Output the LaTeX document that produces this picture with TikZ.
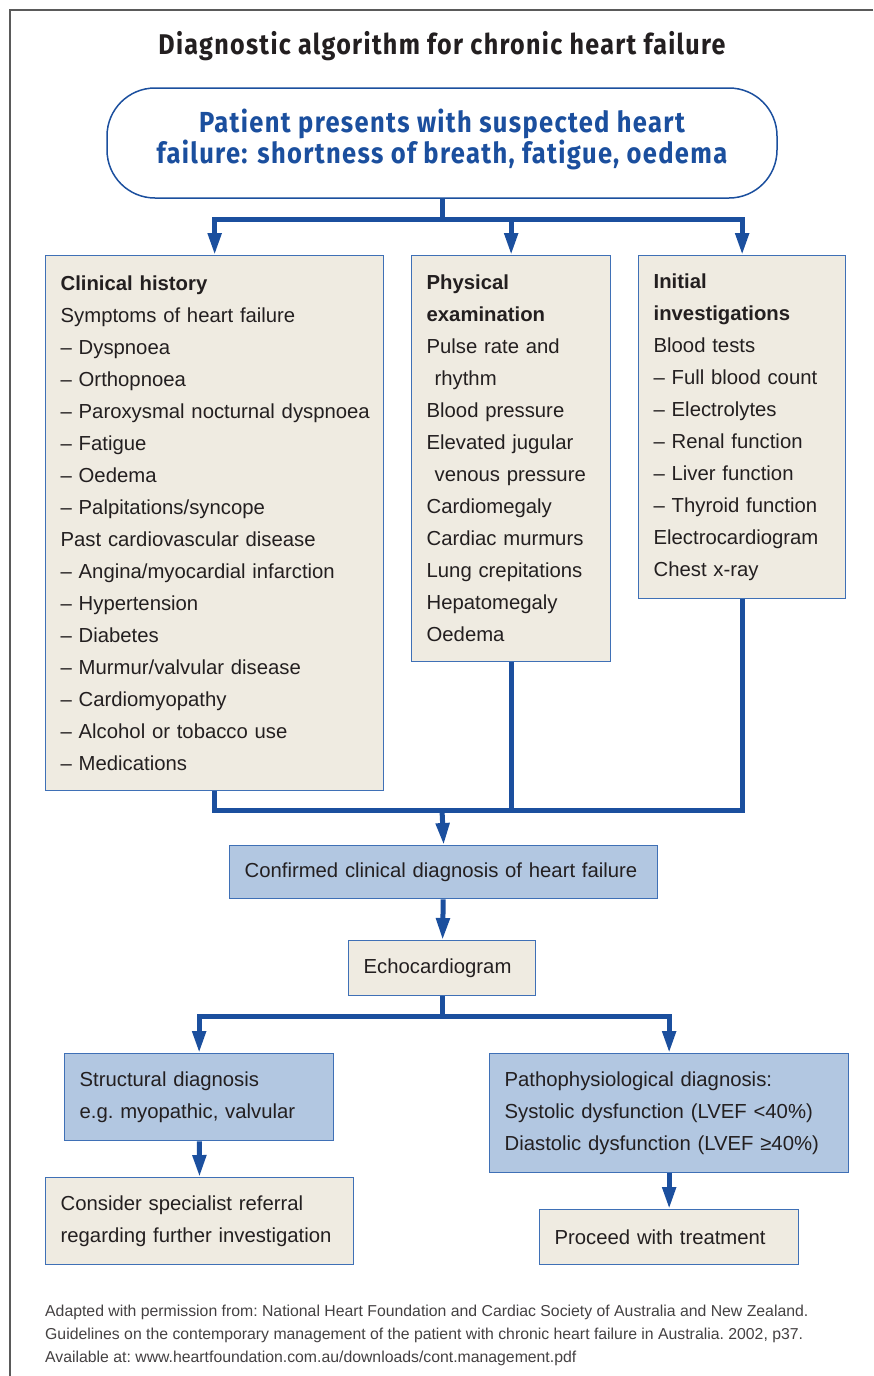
\documentclass[tikz,border=0pt]{standalone}
\usepackage{fontspec}
\setmainfont{Liberation Sans}
\newfontfamily\condfont[FakeStretch=0.88, LetterSpace=4.6]{Fira Sans}
\usepackage{xcolor}
\usepackage{tikz}
\usetikzlibrary{arrows.meta}

\definecolor{flowblue}{HTML}{1B4F9E}
\definecolor{edgeblue}{HTML}{3F70B6}
\definecolor{beige}{HTML}{EFEBE1}
\definecolor{paleblue}{HTML}{B2C7E1}
\definecolor{ink}{HTML}{231F20}
\definecolor{framegray}{HTML}{5A5A5A}

\begin{document}
\begin{tikzpicture}[x=1pt, y=-1pt,
    every node/.style={text=ink, font=\fontsize{20.3}{32}\selectfont\frenchspacing},
    card/.style={draw=edgeblue, line width=1.3pt, fill=beige, anchor=north west, align=left, inner xsep=15pt, inner ysep=0pt},
    bluecard/.style={card, fill=paleblue},
    link/.style={draw=flowblue, line width=5pt},
    flow/.style={link, -{Triangle[width=13pt,length=22pt]}}]
    \useasboundingbox (0,0) rectangle (873,1376);
    \draw[framegray, line width=2pt] (873,10) -- (10,10) -- (10,1376);

    % Title and start
    \node (title) at (442,46) {\condfont\bfseries\fontsize{28.5}{34}\selectfont Diagnostic algorithm for chronic heart failure};
    \node[draw=flowblue, line width=1.5pt, fill=white, rounded corners=48pt, minimum width=670pt, minimum height=110pt, text depth=13pt, align=center, text=flowblue, font=\condfont\bfseries\fontsize{29}{31}\selectfont] (patient) at (442,143) {Patient presents with suspected heart\\failure: shortness of breath, fatigue, oedema};

    % Assessment boxes
    \node[card, text width=308pt, minimum height=535pt] (clinical) at (45,255) {\textbf{Clinical history}\\Symptoms of heart failure\\– Dyspnoea\\– Orthopnoea\\\mbox{– Paroxysmal nocturnal dyspnoea}\\– Fatigue\\– Oedema\\– Palpitations/syncope\\Past cardiovascular disease\\– Angina/myocardial infarction\\– Hypertension\\– Diabetes\\– Murmur/valvular disease\\– Cardiomyopathy\\– Alcohol or tobacco use\\– Medications};
    \node[card, text width=169pt, minimum height=406pt] (physical) at (411,255) {\textbf{Physical}\\\textbf{examination}\\Pulse rate and\\\hspace*{8pt}rhythm\\Blood pressure\\Elevated jugular\\\hspace*{8pt}venous pressure\\Cardiomegaly\\Cardiac murmurs\\Lung crepitations\\Hepatomegaly\\Oedema};
    \node[card, text width=177pt, minimum height=343pt] (initial) at (638,255) {\textbf{Initial}\\\textbf{investigations}\\Blood tests\\– Full blood count\\– Electrolytes\\– Renal function\\– Liver function\\– Thyroid function\\Electrocardiogram\\Chest x-ray};

    % Diagnosis
    \node[bluecard, text width=398pt, minimum height=53pt] (confirmed) at (229,845) {Confirmed clinical diagnosis of heart failure};
    \node[card, text width=157pt, minimum height=55pt] (echo) at (348,940) {Echocardiogram};
    \node[bluecard, text width=239pt, minimum height=87pt] (structural) at (64,1053) {Structural diagnosis\\e.g. myopathic, valvular};
    \node[bluecard, text width=329pt, minimum height=119pt] (patho) at (489,1053) {Pathophysiological diagnosis:\\Systolic dysfunction (LVEF <40\%)\\Diastolic dysfunction (LVEF ≥40\%)};
    \node[card, text width=278pt, minimum height=87pt] (referral) at (45,1177) {Consider specialist referral\\regarding further investigation};
    \node[card, text width=229pt, minimum height=55pt] (treatment) at (539,1209) {Proceed with treatment};

    \node[anchor=west, align=left, inner sep=0pt, text=ink!85, font=\fontsize{15.8}{23}\selectfont\frenchspacing] (source) at (45,1335) {Adapted with permission from: National Heart Foundation and Cardiac Society of Australia and New Zealand.\\Guidelines on the contemporary management of the patient with chronic heart failure in Australia. 2002, p37.\\Available at: www.heartfoundation.com.au/downloads/cont.management.pdf};

    % Connections
    \draw[flow] (patient.south) -- ++(0,21) -| (clinical.north);
    \draw[flow] (patient.south) -- ++(0,21) -| (physical.north);
    \draw[flow] (patient.south) -- ++(0,21) -| (initial.north);

    \coordinate (merge) at (442,810);
    \draw[link] (clinical.south) |- (merge);
    \draw[link] (initial.south) |- (merge);
    \draw[link] (physical.south) -- (physical.south |- merge);
    \draw[flow] (merge) -- (confirmed.north);
    \draw[flow] (confirmed) -- (echo);

    \draw[flow] (echo.south) -- ++(0,20) -| (structural.north);
    \draw[flow] (echo.south) -- ++(0,20) -| (patho.north);
    \draw[flow] (structural) -- (referral);
    \draw[flow] (patho) -- (treatment);
\end{tikzpicture}
\end{document}
